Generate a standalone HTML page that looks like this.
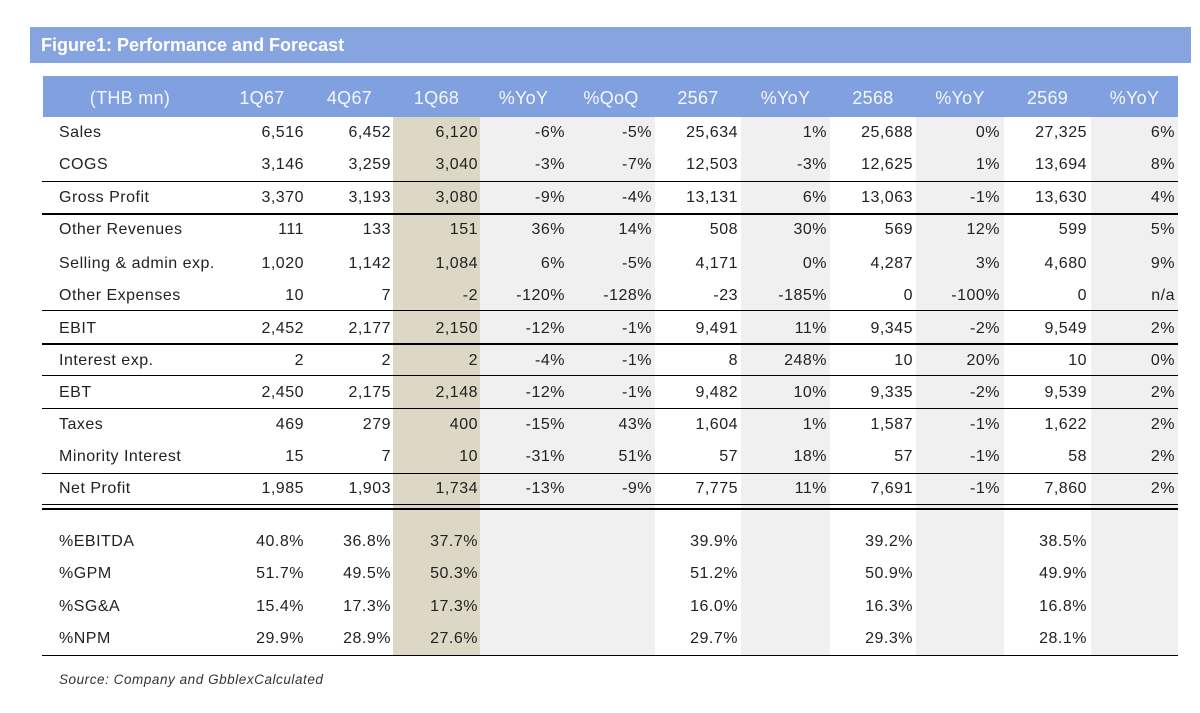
<!DOCTYPE html>
<html>
<head>
<meta charset="utf-8">
<style>
  html, body { margin:0; padding:0; background:#ffffff; }
  body { width:1200px; height:713px; position:relative; overflow:hidden;
         font-family:"Liberation Sans", Arial, sans-serif; color:#222222; }
  .abs { position:absolute; }
  .title { left:30px; top:27px; width:1161px; height:36px; background:#86a5e0; }
  .title span { position:absolute; left:11px; top:0; line-height:36px; font-size:18px;
                font-weight:bold; color:#ffffff; letter-spacing:0px; }
  .hdr { left:43px; top:76px; width:1135px; height:41px; background:#80a0df; }
  .shade { top:117px; height:539px; }
  .beige { background:#dcd8c5; }
  .gray { background:#f0f0f0; }
  .row { position:absolute; left:42px; width:1136px; height:32px; display:flex;
         font-size:16px; line-height:32px; letter-spacing:0.5px; white-space:nowrap; }
  .row div { text-align:right; box-sizing:border-box; padding-right:2px; }
  .row div.l { text-align:left; padding-left:17px; }
  .hrow { position:absolute; left:42px; top:78px; width:1136px; height:40px; display:flex;
          font-size:18px; line-height:40px; letter-spacing:0.3px; color:#f5f7fc; white-space:nowrap; }
  .hrow div { text-align:center; }
  .w0{width:176px}.w1{width:88px}.w2{width:87px}.w3{width:87px}.w4{width:87px}.w5{width:88px;padding-right:3px!important}
  .w6{width:86px;padding-right:3px!important}.w7{width:89px;padding-right:3px!important}.w8{width:86px;padding-right:3px!important}
  .w9{width:88px;padding-right:4px!important}.w10{width:87px;padding-right:4px!important}.w11{width:87px;padding-right:3px!important}
  .hrow .w5,.hrow .w6,.hrow .w7,.hrow .w8,.hrow .w9,.hrow .w10,.hrow .w11{padding-right:0!important}
  .line { position:absolute; left:42px; width:1136px; background:#000; }
  .src { left:59px; top:671px; font-size:13.5px; font-style:italic; color:#333;
         letter-spacing:0.55px; line-height:18px; }
</style>
</head>
<body>
<div class="abs title"><span>Figure1: Performance and Forecast</span></div>

<div class="abs hdr"></div>

<!-- column shading -->
<div class="abs shade beige" style="left:393px;width:87px;"></div>
<div class="abs shade gray" style="left:480px;width:175px;"></div>
<div class="abs shade gray" style="left:741px;width:89px;"></div>
<div class="abs shade gray" style="left:916px;width:88px;"></div>
<div class="abs shade gray" style="left:1091px;width:87px;"></div>

<!-- header -->
<div class="hrow">
  <div class="w0">(THB mn)</div><div class="w1">1Q67</div><div class="w2">4Q67</div><div class="w3">1Q68</div>
  <div class="w4">%YoY</div><div class="w5">%QoQ</div><div class="w6">2567</div><div class="w7">%YoY</div>
  <div class="w8">2568</div><div class="w9">%YoY</div><div class="w10">2569</div><div class="w11">%YoY</div>
</div>

<!-- rows -->
<div class="row" style="top:117px"><div class="l w0">Sales</div><div class="w1">6,516</div><div class="w2">6,452</div><div class="w3">6,120</div><div class="w4">-6%</div><div class="w5">-5%</div><div class="w6">25,634</div><div class="w7">1%</div><div class="w8">25,688</div><div class="w9">0%</div><div class="w10">27,325</div><div class="w11">6%</div></div>
<div class="row" style="top:149px"><div class="l w0">COGS</div><div class="w1">3,146</div><div class="w2">3,259</div><div class="w3">3,040</div><div class="w4">-3%</div><div class="w5">-7%</div><div class="w6">12,503</div><div class="w7">-3%</div><div class="w8">12,625</div><div class="w9">1%</div><div class="w10">13,694</div><div class="w11">8%</div></div>
<div class="row" style="top:182px"><div class="l w0">Gross Profit</div><div class="w1">3,370</div><div class="w2">3,193</div><div class="w3">3,080</div><div class="w4">-9%</div><div class="w5">-4%</div><div class="w6">13,131</div><div class="w7">6%</div><div class="w8">13,063</div><div class="w9">-1%</div><div class="w10">13,630</div><div class="w11">4%</div></div>
<div class="row" style="top:214px"><div class="l w0">Other Revenues</div><div class="w1">111</div><div class="w2">133</div><div class="w3">151</div><div class="w4">36%</div><div class="w5">14%</div><div class="w6">508</div><div class="w7">30%</div><div class="w8">569</div><div class="w9">12%</div><div class="w10">599</div><div class="w11">5%</div></div>
<div class="row" style="top:248px"><div class="l w0">Selling &amp; admin exp.</div><div class="w1">1,020</div><div class="w2">1,142</div><div class="w3">1,084</div><div class="w4">6%</div><div class="w5">-5%</div><div class="w6">4,171</div><div class="w7">0%</div><div class="w8">4,287</div><div class="w9">3%</div><div class="w10">4,680</div><div class="w11">9%</div></div>
<div class="row" style="top:280px"><div class="l w0">Other Expenses</div><div class="w1">10</div><div class="w2">7</div><div class="w3">-2</div><div class="w4">-120%</div><div class="w5">-128%</div><div class="w6">-23</div><div class="w7">-185%</div><div class="w8">0</div><div class="w9">-100%</div><div class="w10">0</div><div class="w11">n/a</div></div>
<div class="row" style="top:313px"><div class="l w0">EBIT</div><div class="w1">2,452</div><div class="w2">2,177</div><div class="w3">2,150</div><div class="w4">-12%</div><div class="w5">-1%</div><div class="w6">9,491</div><div class="w7">11%</div><div class="w8">9,345</div><div class="w9">-2%</div><div class="w10">9,549</div><div class="w11">2%</div></div>
<div class="row" style="top:345px"><div class="l w0">Interest exp.</div><div class="w1">2</div><div class="w2">2</div><div class="w3">2</div><div class="w4">-4%</div><div class="w5">-1%</div><div class="w6">8</div><div class="w7">248%</div><div class="w8">10</div><div class="w9">20%</div><div class="w10">10</div><div class="w11">0%</div></div>
<div class="row" style="top:377px"><div class="l w0">EBT</div><div class="w1">2,450</div><div class="w2">2,175</div><div class="w3">2,148</div><div class="w4">-12%</div><div class="w5">-1%</div><div class="w6">9,482</div><div class="w7">10%</div><div class="w8">9,335</div><div class="w9">-2%</div><div class="w10">9,539</div><div class="w11">2%</div></div>
<div class="row" style="top:409px"><div class="l w0">Taxes</div><div class="w1">469</div><div class="w2">279</div><div class="w3">400</div><div class="w4">-15%</div><div class="w5">43%</div><div class="w6">1,604</div><div class="w7">1%</div><div class="w8">1,587</div><div class="w9">-1%</div><div class="w10">1,622</div><div class="w11">2%</div></div>
<div class="row" style="top:441px"><div class="l w0">Minority Interest</div><div class="w1">15</div><div class="w2">7</div><div class="w3">10</div><div class="w4">-31%</div><div class="w5">51%</div><div class="w6">57</div><div class="w7">18%</div><div class="w8">57</div><div class="w9">-1%</div><div class="w10">58</div><div class="w11">2%</div></div>
<div class="row" style="top:473px"><div class="l w0">Net Profit</div><div class="w1">1,985</div><div class="w2">1,903</div><div class="w3">1,734</div><div class="w4">-13%</div><div class="w5">-9%</div><div class="w6">7,775</div><div class="w7">11%</div><div class="w8">7,691</div><div class="w9">-1%</div><div class="w10">7,860</div><div class="w11">2%</div></div>

<div class="row" style="top:526px"><div class="l w0">%EBITDA</div><div class="w1">40.8%</div><div class="w2">36.8%</div><div class="w3">37.7%</div><div class="w4"></div><div class="w5"></div><div class="w6">39.9%</div><div class="w7"></div><div class="w8">39.2%</div><div class="w9"></div><div class="w10">38.5%</div><div class="w11"></div></div>
<div class="row" style="top:558px"><div class="l w0">%GPM</div><div class="w1">51.7%</div><div class="w2">49.5%</div><div class="w3">50.3%</div><div class="w4"></div><div class="w5"></div><div class="w6">51.2%</div><div class="w7"></div><div class="w8">50.9%</div><div class="w9"></div><div class="w10">49.9%</div><div class="w11"></div></div>
<div class="row" style="top:591px"><div class="l w0">%SG&amp;A</div><div class="w1">15.4%</div><div class="w2">17.3%</div><div class="w3">17.3%</div><div class="w4"></div><div class="w5"></div><div class="w6">16.0%</div><div class="w7"></div><div class="w8">16.3%</div><div class="w9"></div><div class="w10">16.8%</div><div class="w11"></div></div>
<div class="row" style="top:623px"><div class="l w0">%NPM</div><div class="w1">29.9%</div><div class="w2">28.9%</div><div class="w3">27.6%</div><div class="w4"></div><div class="w5"></div><div class="w6">29.7%</div><div class="w7"></div><div class="w8">29.3%</div><div class="w9"></div><div class="w10">28.1%</div><div class="w11"></div></div>

<!-- rules -->
<div class="line" style="top:181px;height:1px"></div>
<div class="line" style="top:213px;height:2px"></div>
<div class="line" style="top:310px;height:1px"></div>
<div class="line" style="top:343px;height:2px"></div>
<div class="line" style="top:375px;height:1px"></div>
<div class="line" style="top:408px;height:1px"></div>
<div class="line" style="top:473px;height:1px"></div>
<div class="line" style="top:504px;height:1px"></div>
<div class="line" style="top:508px;height:2px"></div>
<div class="line" style="top:655px;height:1px"></div>

<div class="abs src">Source: Company and GbblexCalculated</div>
</body>
</html>
